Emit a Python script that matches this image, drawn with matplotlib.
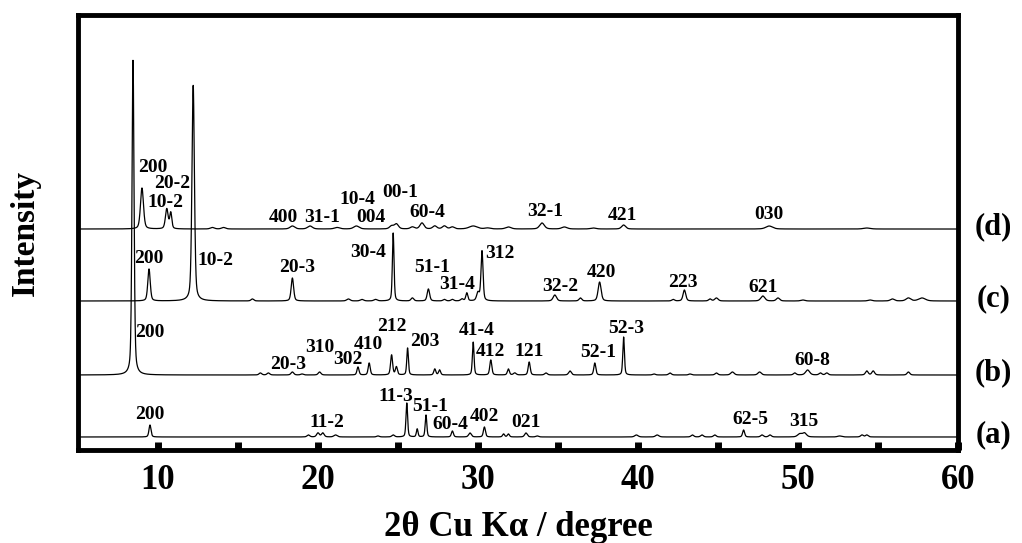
import numpy as np
import matplotlib
matplotlib.use("Agg")
import matplotlib.pyplot as plt

plt.rcParams['font.family'] = ['Liberation Serif', 'DejaVu Serif']
plt.rcParams['font.weight'] = 'bold'

# peak lists: 2theta, height, width (fwhm)
pos_a = [9.5, 19.4, 20.0, 20.3, 21.1, 23.75, 24.7, 25.55, 26.2, 26.75, 28.4, 29.5, 30.4, 31.6, 31.9,
         33.0, 33.7, 39.9, 41.2, 43.4, 44.0, 44.8, 46.6, 47.75, 48.25, 50.1, 50.4, 52.6, 54.0, 54.3]
h_a = [12, 2, 4, 4, 2, 1, 2, 34, 8, 22, 6, 4, 10, 3, 3,
       4, 1, 2, 2, 2, 2, 2, 7, 2, 2, 3, 4, 1, 2, 2]
w_a = [0.15, 0.2, 0.2, 0.2, 0.25, 0.2, 0.2, 0.12, 0.12, 0.12, 0.15, 0.2, 0.15, 0.15, 0.15,
       0.2, 0.2, 0.25, 0.25, 0.2, 0.2, 0.2, 0.15, 0.2, 0.2, 0.3, 0.3, 0.3, 0.2, 0.2]

pos_b = [8.44, 16.4, 16.9, 18.4, 19.0, 20.1, 22.5, 23.2, 24.6, 24.9, 25.6, 27.3, 27.6, 29.7, 30.8,
         31.9, 32.3, 33.2, 34.25, 35.75, 37.3, 39.1, 41.0, 42.0, 43.25, 44.9, 45.9, 47.6, 49.8,
         50.6, 51.4, 51.8, 54.3, 54.7, 56.9]
h_b = [315, 2, 2, 3, 1, 3, 8, 12, 20, 8, 27, 6, 5, 33, 15,
       6, 2, 13, 2, 4, 12, 38, 1, 2, 1, 2, 3, 3, 2,
       5, 2, 2, 4, 4, 3]
w_b = [0.15, 0.2, 0.2, 0.2, 0.2, 0.2, 0.15, 0.15, 0.15, 0.15, 0.12, 0.15, 0.15, 0.12, 0.15,
       0.15, 0.2, 0.15, 0.2, 0.2, 0.15, 0.12, 0.2, 0.2, 0.2, 0.2, 0.25, 0.25, 0.2,
       0.3, 0.2, 0.2, 0.2, 0.2, 0.2]

pos_c = [9.44, 12.2, 15.9, 18.4, 21.9, 22.75, 23.6, 24.7, 25.9, 26.9, 27.9, 28.4, 29.0, 29.3, 30.0,
         30.25, 34.8, 36.4, 37.6, 42.2, 42.9, 44.5, 44.9, 47.8, 48.75, 50.3, 54.5, 55.9, 56.9, 57.75]
h_c = [32, 216, 2, 23, 2, 1.5, 1.5, 68, 3, 12, 1.5, 1.5, 2, 8, 8,
       50, 6, 3, 19, 1.5, 11, 2, 3, 5, 3, 1, 1, 2, 3, 3]
w_c = [0.18, 0.18, 0.2, 0.18, 0.25, 0.25, 0.25, 0.12, 0.2, 0.18, 0.2, 0.2, 0.2, 0.15, 0.2,
       0.15, 0.25, 0.2, 0.22, 0.2, 0.2, 0.2, 0.25, 0.3, 0.25, 0.3, 0.3, 0.3, 0.35, 0.5]

pos_d = [9.0, 10.55, 10.8, 13.4, 14.1, 18.4, 19.5, 21.2, 22.4, 24.6, 24.9, 25.9, 26.5, 27.3, 27.9,
         28.4, 29.7, 30.6, 31.9, 34.0, 35.4, 37.2, 39.1, 48.2, 54.3]
h_d = [41, 20, 16, 1.5, 1.5, 3, 3, 1.5, 3, 3, 5, 2, 6, 3, 3,
       2, 3, 1, 2, 6, 2, 1, 4, 3, 1]
w_d = [0.22, 0.2, 0.15, 0.3, 0.3, 0.35, 0.35, 0.4, 0.4, 0.3, 0.3, 0.3, 0.3, 0.3, 0.3,
       0.3, 0.6, 0.4, 0.4, 0.35, 0.4, 0.4, 0.3, 0.5, 0.5]

offsets = {'a': 13, 'b': 75, 'c': 149, 'd': 221}

# peak labels: (text, 2theta, y)
labels_a = [("200", 9.5, 35), ("11-2", 20.56, 27), ("11-3", 24.88, 53), ("51-1", 27.0, 43),
            ("60-4", 28.25, 25), ("402", 30.38, 33), ("021", 33.0, 27), ("62-5", 47.0, 30),
            ("315", 50.38, 28)]
labels_b = [("200", 9.5, 117), ("20-3", 18.13, 85), ("310", 20.13, 102), ("302", 21.88, 90),
            ("410", 23.13, 105), ("212", 24.63, 124), ("203", 26.69, 108), ("41-4", 29.94, 119),
            ("412", 30.75, 98), ("121", 33.19, 98), ("52-1", 37.5, 97), ("52-3", 39.25, 122),
            ("60-8", 50.88, 89)]
labels_c = [("200", 9.44, 192), ("10-2", 13.56, 190), ("20-3", 18.69, 183), ("30-4", 23.13, 198),
            ("51-1", 27.13, 183), ("31-4", 28.69, 166), ("312", 31.38, 197), ("32-2", 35.13, 164),
            ("420", 37.69, 178), ("223", 42.81, 168), ("621", 47.81, 163)]
labels_d = [("200", 9.69, 283), ("20-2", 10.88, 267), ("10-2", 10.44, 248), ("400", 17.81, 233),
            ("31-1", 20.25, 233), ("10-4", 22.44, 251), ("004", 23.31, 233), ("00-1", 25.13, 258),
            ("60-4", 26.81, 238), ("32-1", 34.19, 239), ("421", 39.0, 235), ("030", 48.19, 236)]


def pattern(x, pos, h, w):
    y = np.zeros_like(x)
    for p, hh, ww in zip(pos, h, w):
        g = np.exp(-4 * np.log(2) * (x - p) ** 2 / ww ** 2)
        l = 1 / (1 + 4 * (x - p) ** 2 / ww ** 2)
        y += hh * (0.6 * g + 0.4 * l)
    return y


x = np.linspace(5, 60, 6001)

fig = plt.figure(figsize=(10.22, 5.43), dpi=100)
ax = fig.add_axes([0.0763, 0.1713, 0.8611, 0.801])

traces = [('a', pos_a, h_a, w_a, labels_a), ('b', pos_b, h_b, w_b, labels_b),
          ('c', pos_c, h_c, w_c, labels_c), ('d', pos_d, h_d, w_d, labels_d)]
for name, pos, h, w, labs in traces:
    ax.plot(x, offsets[name] + pattern(x, pos, h, w), color='black', lw=0.9)
    for txt, lx, ly in labs:
        ax.text(lx, ly, txt, ha='center', va='center', fontsize=14, fontweight='bold')
    ax.text(62.2, offsets[name] + 2, '(%s)' % name, ha='center', va='center',
            fontsize=22, fontweight='bold', clip_on=False)

ax.set_xlim(5, 60)
ax.set_ylim(0, 435)
ax.set_xticks([10, 20, 30, 40, 50, 60])
ax.set_xticks([15, 25, 35, 45, 55], minor=True)
ax.set_yticks([])
ax.tick_params(axis='x', which='both', direction='in', length=6, width=5, top=False,
               labelsize=25, pad=10)
for t in ax.get_xticklabels():
    t.set_fontweight('bold')
for s in ax.spines.values():
    s.set_linewidth(3.5)

ax.set_xlabel('2θ Cu Kα / degree', fontsize=25, fontweight='bold', labelpad=10)
ax.set_ylabel('Intensity', fontsize=24, fontweight='bold', labelpad=27)

fig.savefig('out.png', dpi=100)
